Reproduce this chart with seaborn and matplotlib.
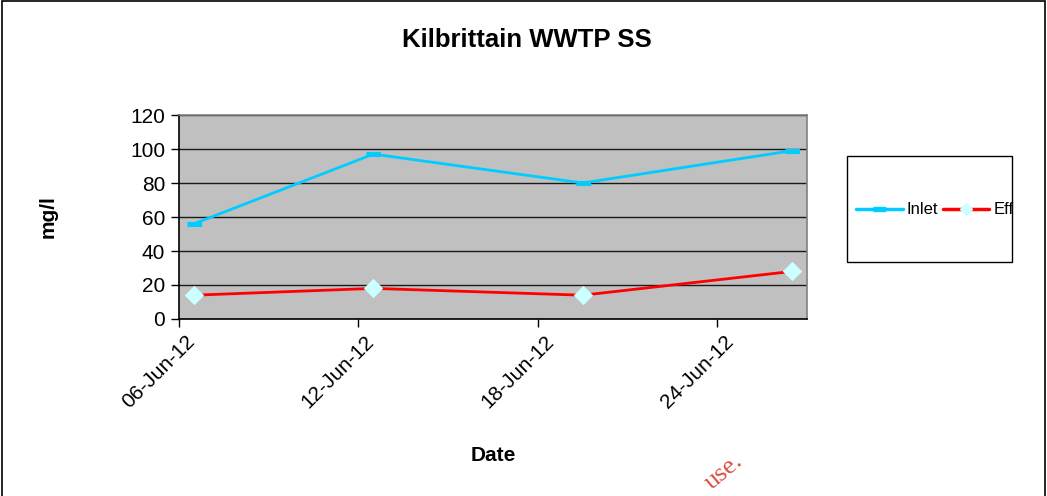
import seaborn as sns
import pandas as pd
import numpy as np
import matplotlib
matplotlib.use("Agg")
import matplotlib.pyplot as plt
import matplotlib.dates as mdates
import matplotlib.transforms as mtransforms
from matplotlib.patches import Rectangle
from matplotlib.lines import Line2D

# data
dates = ["2012-06-06", "2012-06-12", "2012-06-19", "2012-06-26"]
inlet = [56, 97, 80, 99]
eff = [14, 18, 14, 28]

# Excel date axis puts each point in the middle of its day
x = pd.to_datetime(dates) + pd.Timedelta(hours=12)
df = pd.DataFrame({"Date": list(x) * 2,
                   "value": inlet + eff,
                   "series": ["Inlet"] * 4 + ["Eff"] * 4})

sns.set_theme(style="white")
plt.rcParams["font.family"] = ["Liberation Sans", "DejaVu Sans"]
plt.rcParams["text.color"] = "black"
plt.rcParams["axes.labelcolor"] = "black"
plt.rcParams["xtick.color"] = "black"
plt.rcParams["ytick.color"] = "black"

fig = plt.figure(figsize=(10.47, 4.96), dpi=100)
ax = fig.add_axes([179 / 1047, 1 - 319 / 496, 628 / 1047, 204 / 496])
ax.set_facecolor("#C0C0C0")

inlet_col = "#00CCFF"
eff_col = "#FF0000"
dash_marker = [(-1, -0.35), (1, -0.35), (1, 0.35), (-1, 0.35)]

sns.lineplot(data=df[df.series == "Inlet"], x="Date", y="value", ax=ax,
             color=inlet_col, lw=2, marker=dash_marker, markersize=10,
             markerfacecolor=inlet_col, markeredgecolor=inlet_col, legend=False)
sns.lineplot(data=df[df.series == "Eff"], x="Date", y="value", ax=ax,
             color=eff_col, lw=2, marker="D", markersize=9.5,
             markerfacecolor="#CCFFFF", markeredgecolor="#CCFFFF", legend=False)

ax.set_xlim(pd.Timestamp("2012-06-06"), pd.Timestamp("2012-06-27"))
ax.set_ylim(0, 120)
ax.set_yticks(np.arange(0, 121, 20))
ax.yaxis.grid(True, color="#1a1a1a", lw=1)
ax.xaxis.grid(False)
ax.set_axisbelow(True)

ax.xaxis.set_major_locator(mdates.DayLocator(bymonthday=[6, 12, 18, 24]))
ax.xaxis.set_major_formatter(mdates.DateFormatter("%d-%b-%y"))
ax.tick_params(axis="both", direction="out", length=6, width=1, color="black",
               labelsize=15, left=True, bottom=True, pad=4)
shift = mtransforms.ScaledTranslation(13 / 100, -6 / 100, fig.dpi_scale_trans)
for lab in ax.get_xticklabels():
    lab.set_rotation(45)
    lab.set_ha("right")
    lab.set_va("center")
    lab.set_rotation_mode("anchor")
    lab.set_transform(lab.get_transform() + shift)

for s in ["left", "bottom"]:
    ax.spines[s].set_color("black")
    ax.spines[s].set_linewidth(1.2)
for s in ["top", "right"]:
    ax.spines[s].set_color("#808080")
    ax.spines[s].set_linewidth(1.2)

ax.set_xlabel("Date", fontsize=15, fontweight="bold", labelpad=24)
ax.set_ylabel("mg/l", fontsize=15, fontweight="bold", labelpad=52)
fig.suptitle("Kilbrittain WWTP SS", fontsize=18.5, fontweight="bold",
             x=527 / 1047, y=1 - 40 / 496, va="center")

# legend box
fig.patches.append(Rectangle((847 / 1047, 1 - 262 / 496), 165 / 1047, 106 / 496,
                             transform=fig.transFigure, facecolor="white",
                             edgecolor="black", lw=1, zorder=1))
handles = [Line2D([], [], color=inlet_col, lw=2.5, marker=dash_marker, markersize=8,
                  markerfacecolor=inlet_col, markeredgecolor=inlet_col),
           Line2D([], [], color=eff_col, lw=2.5, marker="D", markersize=6,
                  markerfacecolor="#CCFFFF", markeredgecolor="#CCFFFF")]
leg = fig.legend(handles, ["Inlet", "Eff"], ncol=2, frameon=False, fontsize=12,
                 loc="center left", bbox_to_anchor=(856 / 1047, 1 - 210 / 496),
                 handlelength=2.8, handletextpad=0.25, columnspacing=0.25,
                 borderaxespad=0, borderpad=0)

# outer chart border
fig.patches.append(Rectangle((2 / 1047, -0.01), 1043 / 1047, 1 - 1 / 496 + 0.01,
                             transform=fig.transFigure, facecolor="none",
                             edgecolor="black", lw=1.2))

# watermark fragment
fig.text(724 / 1047, 1 - 472 / 496, "use.", color="#D9503F", fontsize=19,
         family="Liberation Serif", rotation=40, ha="center", va="center")

fig.savefig("out.png", dpi=100)
